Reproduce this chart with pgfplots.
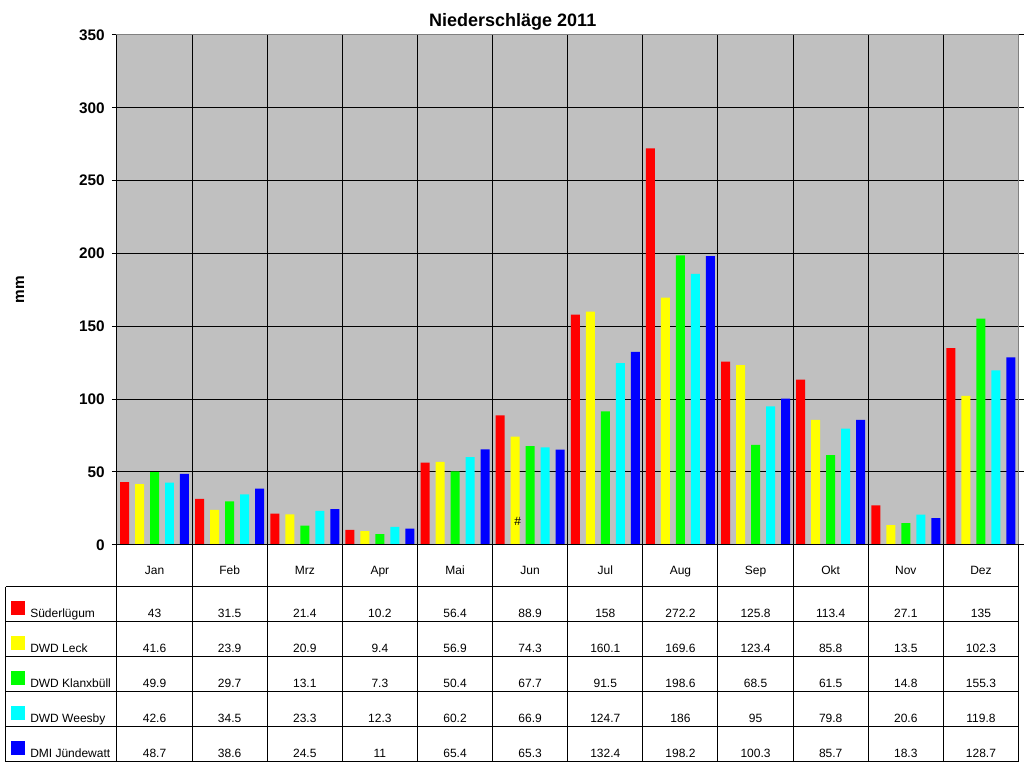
\documentclass[border=0pt]{standalone}
\usepackage{pgfplots}
\usepackage{pgfplotstable}
\pgfplotsset{compat=1.18}
\usepackage{fontspec}
\setmainfont{Liberation Sans}
\definecolor{bg}{HTML}{C0C0C0}
\definecolor{frame}{HTML}{808080}
\definecolor{cR}{HTML}{FF0000}
\definecolor{cY}{HTML}{FFFF00}
\definecolor{cG}{HTML}{00FF00}
\definecolor{cC}{HTML}{00FFFF}
\definecolor{cB}{HTML}{0000FF}

\pgfplotstableread{
m S L K W J
0 43 41.6 49.9 42.6 48.7
1 31.5 23.9 29.7 34.5 38.6
2 21.4 20.9 13.1 23.3 24.5
3 10.2 9.4 7.3 12.3 11
4 56.4 56.9 50.4 60.2 65.4
5 88.9 74.3 67.7 66.9 65.3
6 158 160.1 91.5 124.7 132.4
7 272.2 169.6 198.6 186 198.2
8 125.8 123.4 68.5 95 100.3
9 113.4 85.8 61.5 79.8 85.7
10 27.1 13.5 14.8 20.6 18.3
11 135 102.3 155.3 119.8 128.7
}\data

\begin{document}
\begin{tikzpicture}
\path (0pt,0pt) rectangle (768pt,-576pt);
\begin{axis}[
  at={(87.75pt,-408.75pt)}, anchor=south west,
  scale only axis, width=676.5pt, height=382.5pt,
  xmin=-0.5, xmax=11.5, ymin=0, ymax=350,
  ybar=4.5pt, bar width=6.75pt,
  ytick={0,50,...,350},
  xtick={0.5,1.5,...,10.5}, xticklabels={},
  x tick style={draw=none},
  y tick style={black, line width=0.75pt},
  ytick align=outside, major tick length=3.75pt,
  grid=major, major grid style={black, line width=0.75pt},
  axis background/.style={fill=bg},
  axis line style={draw=frame, line width=0.75pt},
  /pgf/number format/assume math mode=true,
  yticklabel style={font=\bfseries\fontsize{11.5}{12}\selectfont, xshift=-2pt},
  clip=false,
]
\addplot[fill=cR, draw=none] table[x=m,y=S]{\data};
\addplot[fill=cY, draw=none] table[x=m,y=L]{\data};
\addplot[fill=cG, draw=none] table[x=m,y=K]{\data};
\addplot[fill=cC, draw=none] table[x=m,y=W]{\data};
\addplot[fill=cB, draw=none] table[x=m,y=J]{\data};
\draw[black, line width=0.75pt] (rel axis cs:0,1) -- (rel axis cs:0,0) -- (rel axis cs:1,0);
\node[font=\fontsize{9}{9}\selectfont, inner sep=0pt] at (axis cs:5,16) [xshift=-9.3pt] {\#};
\end{axis}
\begin{scope}[x=0.75pt,y=-0.75pt]
% title and axis label
\node[anchor=base, font=\bfseries\fontsize{13.5}{14}\selectfont] at (513,27) {Niederschläge 2011};
\node[rotate=90, font=\bfseries\fontsize{11.5}{12}\selectfont] at (20,290) {mm};
% data table
\begin{scope}[line width=0.75pt, black]
\foreach \k in {0,...,12} \draw ({117+\k*902/12},545) -- ({117+\k*902/12},762);
\foreach \yy in {587,622,657,692,727,762} \draw (6,\yy) -- (1019,\yy);
\draw (6,587) -- (6,762);
\end{scope}
\foreach \n [count=\i from 0] in {Jan,Feb,Mrz,Apr,Mai,Jun,Jul,Aug,Sep,Okt,Nov,Dez}
  \node[anchor=base, font=\fontsize{9}{10}\selectfont, inner sep=0pt] at ({117+(\i+0.5)*902/12},575) {\n};
\foreach \col/\cc/\name [count=\r from 0] in {S/cR/Süderlügum,L/cY/DWD Leck,K/cG/DWD Klanxbüll,W/cC/DWD Weesby,J/cB/DMI Jündewatt} {
  \fill[\cc] (11,{601+35*\r}) rectangle (25,{615+35*\r});
  \node[anchor=base west, font=\fontsize{9}{10}\selectfont, inner sep=0pt] at (30,{618+35*\r}) {\name};
  \foreach \c in {0,...,11} {
    \pgfplotstablegetelem{\c}{\col}\of\data
    \node[anchor=base, font=\fontsize{9}{10}\selectfont, inner sep=0pt] at ({117+(\c+0.5)*902/12},{618+35*\r}) {\pgfplotsretval};
  }
}
\end{scope}
\end{tikzpicture}
\end{document}
